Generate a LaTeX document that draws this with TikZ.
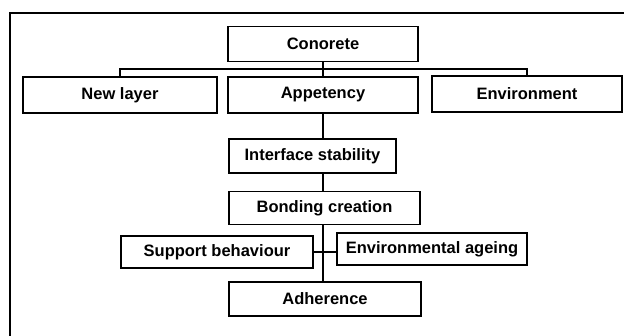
\documentclass[tikz,border=0pt]{standalone}
\usepackage{fontspec}
\setmainfont{Liberation Sans}
\begin{document}
\begin{tikzpicture}[x=1pt,y=-1pt,
  box/.style={draw,line width=1.3pt,rectangle,minimum height=35pt,inner sep=0pt,font=\fontsize{16.5}{18}\selectfont\bfseries},
  link/.style={line width=1.2pt}]
\useasboundingbox (0,0) rectangle (624,336);
\draw[line width=1.2pt] (10,336) -- (10,13) -- (624,13);
\node[box,minimum width=190pt] (conc) at (323,44) {Conorete};
\node[box,minimum width=194pt,minimum height=36pt] (newl) at (120,95) {New layer};
\node[box,minimum width=190pt,minimum height=36pt] (appe) at (323,95) {Appetency};
\node[box,minimum width=190pt,minimum height=36pt] (envi) at (527,94) {Environment};
\node[box,minimum width=167pt,minimum height=34pt] (intf) at (312.5,156) {Interface stability};
\node[box,minimum width=191pt,minimum height=33pt] (bond) at (324.5,208) {Bonding creation};
\node[box,minimum width=192pt,minimum height=32pt] (supp) at (217,252) {Support behaviour};
\node[box,minimum width=190pt,minimum height=32pt] (ageg) at (432,249) {Environmental ageing};
\node[box,minimum width=192pt,minimum height=34pt] (adhe) at (325,299) {Adherence};
\coordinate (bus) at (323,69);
\draw[link] (conc.south -| bus) -- (bus);
\draw[link] (newl.north) |- (bus) -| (envi.north);
\draw[link] (bus) -- (appe.north -| bus);
\draw[link] (appe.south -| bus) -- (intf.north -| bus);
\draw[link] (intf.south -| bus) -- (bond.north -| bus);
\draw[link] (bond.south -| bus) -- (adhe.north -| bus);
\draw[link] (supp.east) -- (ageg.west |- supp.east);
\end{tikzpicture}
\end{document}
